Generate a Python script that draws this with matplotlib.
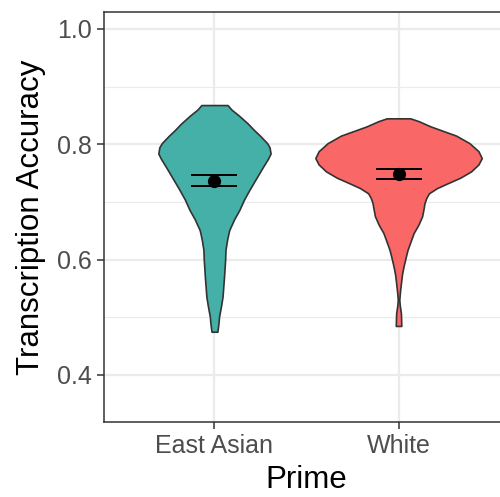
import matplotlib
matplotlib.use("Agg")
import matplotlib.pyplot as plt
from matplotlib.ticker import MultipleLocator

plt.rcParams["font.family"] = ["Liberation Sans", "DejaVu Sans"]

# categories and summary values
primes = ["East Asian", "White"]
colors = ["#45B0A8", "#F96767"]
means = [0.736, 0.748]
err_low = [0.727, 0.739]
err_high = [0.746, 0.757]

# violin outlines: accuracy level and half width (in category units)
ea_levels = [0.475, 0.490, 0.501, 0.520, 0.536, 0.570, 0.600, 0.617, 0.635, 0.651,
             0.670, 0.686, 0.705, 0.721, 0.740, 0.761, 0.775, 0.784, 0.795, 0.802,
             0.815, 0.825, 0.836, 0.850, 0.860, 0.868]
ea_width = [0.016, 0.022, 0.025, 0.036, 0.044, 0.052, 0.058, 0.060, 0.069, 0.080,
            0.107, 0.135, 0.162, 0.190, 0.225, 0.264, 0.291, 0.305, 0.299, 0.286,
            0.247, 0.214, 0.181, 0.132, 0.093, 0.071]

wh_levels = [0.485, 0.497, 0.507, 0.520, 0.530, 0.545, 0.559, 0.575, 0.588, 0.603,
             0.617, 0.632, 0.646, 0.660, 0.675, 0.690, 0.698, 0.707, 0.715, 0.724,
             0.732, 0.742, 0.753, 0.765, 0.776, 0.788, 0.802, 0.815, 0.831, 0.840,
             0.845]
wh_width = [0.015, 0.014, 0.013, 0.007, 0.004, 0.008, 0.013, 0.019, 0.027, 0.038,
            0.049, 0.066, 0.082, 0.107, 0.128, 0.137, 0.141, 0.151, 0.165, 0.209,
            0.264, 0.335, 0.394, 0.434, 0.452, 0.434, 0.385, 0.313, 0.174, 0.110,
            0.064]

fig = plt.figure(figsize=(5.0, 4.97), dpi=100)
ax = fig.add_axes([0.208, 0.151, 0.81, 0.825])

violins = [(ea_levels, ea_width), (wh_levels, wh_width)]
for i, (levels, width) in enumerate(violins):
    pos = i + 1
    left = [pos - w for w in width]
    right = [pos + w for w in width]
    ax.fill_betweenx(levels, left, right, facecolor=colors[i],
                     edgecolor="#333333", linewidth=1.2, zorder=3)

xpos = [1, 2]
yerr = [[m - lo for m, lo in zip(means, err_low)],
        [hi - m for m, hi in zip(means, err_high)]]
ax.errorbar(xpos, means, yerr=yerr, fmt="o", color="black", markersize=8.5,
            elinewidth=1.4, capsize=16.5, capthick=1.4, zorder=4)

ax.set_xlim(0.4, 2.6)
ax.set_ylim(0.3185, 1.0295)
ax.set_xticks(xpos)
ax.set_xticklabels(primes)
ax.yaxis.set_major_locator(MultipleLocator(0.2))
ax.yaxis.set_minor_locator(MultipleLocator(0.1))
ax.set_yticklabels([f"{v:.1f}" for v in ax.get_yticks()])
ax.set_ylim(0.3185, 1.0295)

ax.grid(True, which="major", color="#EBEBEB", linewidth=1.6, zorder=0)
ax.grid(True, which="minor", axis="y", color="#EBEBEB", linewidth=0.8, zorder=0)
ax.set_axisbelow(True)

ax.tick_params(axis="both", which="major", labelsize=18, labelcolor="#4D4D4D",
               color="#333333", length=5, width=1.1, pad=4)
ax.tick_params(axis="y", which="minor", length=0)
for spine in ax.spines.values():
    spine.set_color("#333333")
    spine.set_linewidth(1.1)
# panel runs past the right edge of the picture
ax.spines["right"].set_visible(False)

ax.set_xlabel("Prime", fontsize=22.5, labelpad=5)
ax.set_ylabel("Transcription Accuracy", fontsize=22.5, labelpad=8)

fig.savefig("out.png", dpi=100)
